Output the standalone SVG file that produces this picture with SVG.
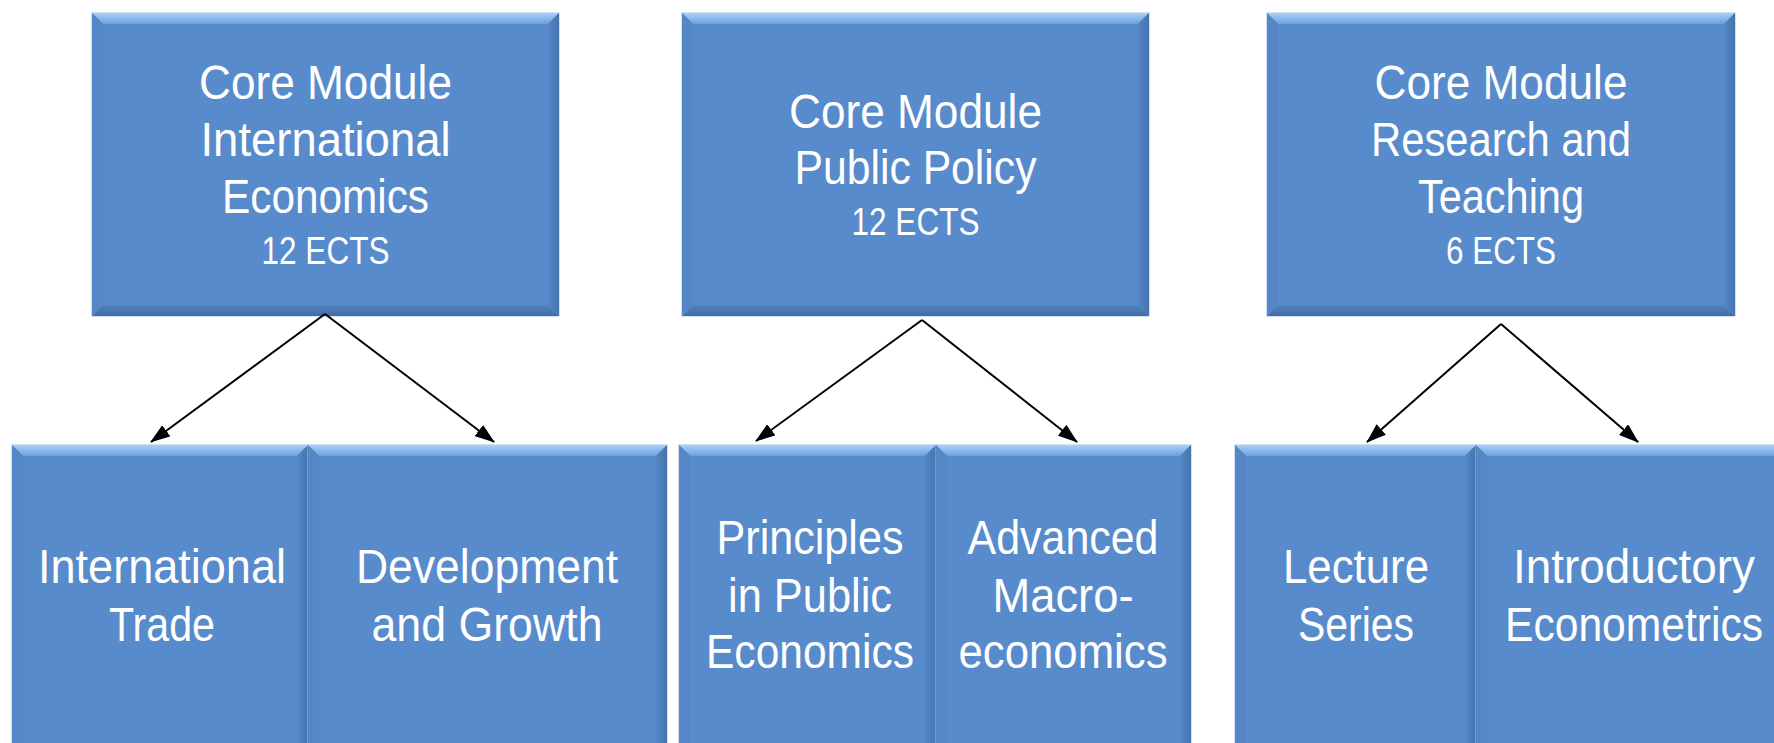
<svg xmlns="http://www.w3.org/2000/svg" width="1774" height="743" viewBox="0 0 1774 743">
<style>
  .face{fill:#588BCB;stroke:#A3C0E4;stroke-width:1}
  .top{fill:url(#gTop)}
  .bot{fill:url(#gBot)}
  .lft{fill:#5587C7}
  .rgt{fill:url(#gRgt)}
  .t{font-family:"Liberation Sans",Arial,sans-serif;font-size:48px;fill:#FFFFFF;text-anchor:middle}
  .s{font-family:"Liberation Sans",Arial,sans-serif;font-size:38px;fill:#FFFFFF;text-anchor:middle}
  .conn line{stroke:#000000;stroke-width:2;marker-end:url(#arr)}
</style>
<defs>
  <linearGradient id="gTop" x1="0" y1="0" x2="0" y2="1">
    <stop offset="0" stop-color="#A9D2F8"/>
    <stop offset="1" stop-color="#6E9FDC"/>
  </linearGradient>
  <linearGradient id="gBot" x1="0" y1="0" x2="0" y2="1">
    <stop offset="0" stop-color="#5182BE"/>
    <stop offset="1" stop-color="#416EA5"/>
  </linearGradient>
  <linearGradient id="gRgt" x1="0" y1="0" x2="1" y2="0">
    <stop offset="0" stop-color="#5586C6"/>
    <stop offset="1" stop-color="#4674AE"/>
  </linearGradient>
  <marker id="arr" markerUnits="userSpaceOnUse" markerWidth="20" markerHeight="14" viewBox="0 0 20 14" refX="19" refY="7" orient="auto">
    <path d="M0,0 L20,7 L0,14 z" fill="#000000"/>
  </marker>
</defs>
<rect width="1774" height="743" fill="#FFFFFF"/>

<g id="core-intl">
  <rect class="face" x="92" y="13" width="467" height="303"/>
  <polygon class="top" points="92,13 559,13 548,24 103,24"/>
  <polygon class="bot" points="92,316 559,316 548,305 103,305"/>
  <polygon class="lft" points="92,13 103,24 103,305 92,316"/>
  <polygon class="rgt" points="559,13 548,24 548,305 559,316"/>
  <text class="t" x="325.5" y="99" textLength="253" lengthAdjust="spacingAndGlyphs">Core Module</text>
  <text class="t" x="325.5" y="156" textLength="250" lengthAdjust="spacingAndGlyphs">International</text>
  <text class="t" x="325.5" y="213" textLength="207" lengthAdjust="spacingAndGlyphs">Economics</text>
  <text class="s" x="325.5" y="264" textLength="128" lengthAdjust="spacingAndGlyphs">12 ECTS</text>
</g>

<g id="core-policy">
  <rect class="face" x="682" y="13" width="467" height="303"/>
  <polygon class="top" points="682,13 1149,13 1138,24 693,24"/>
  <polygon class="bot" points="682,316 1149,316 1138,305 693,305"/>
  <polygon class="lft" points="682,13 693,24 693,305 682,316"/>
  <polygon class="rgt" points="1149,13 1138,24 1138,305 1149,316"/>
  <text class="t" x="915.5" y="128" textLength="253" lengthAdjust="spacingAndGlyphs">Core Module</text>
  <text class="t" x="915.5" y="184" textLength="242" lengthAdjust="spacingAndGlyphs">Public Policy</text>
  <text class="s" x="915.5" y="235" textLength="128" lengthAdjust="spacingAndGlyphs">12 ECTS</text>
</g>

<g id="core-research">
  <rect class="face" x="1267" y="13" width="468" height="303"/>
  <polygon class="top" points="1267,13 1735,13 1724,24 1278,24"/>
  <polygon class="bot" points="1267,316 1735,316 1724,305 1278,305"/>
  <polygon class="lft" points="1267,13 1278,24 1278,305 1267,316"/>
  <polygon class="rgt" points="1735,13 1724,24 1724,305 1735,316"/>
  <text class="t" x="1501" y="99" textLength="253" lengthAdjust="spacingAndGlyphs">Core Module</text>
  <text class="t" x="1501" y="156" textLength="260" lengthAdjust="spacingAndGlyphs">Research and</text>
  <text class="t" x="1501" y="213" textLength="166" lengthAdjust="spacingAndGlyphs">Teaching</text>
  <text class="s" x="1501" y="264" textLength="110" lengthAdjust="spacingAndGlyphs">6 ECTS</text>
</g>

<g id="intl-trade">
  <rect class="face" x="12" y="445" width="296" height="320"/>
  <polygon class="top" points="12,445 308,445 297,456 23,456"/>
  <polygon class="lft" points="12,445 23,456 23,765 12,765"/>
  <polygon class="rgt" points="308,445 297,456 297,765 308,765"/>
  <text class="t" x="162" y="583" textLength="248" lengthAdjust="spacingAndGlyphs">International</text>
  <text class="t" x="162" y="641" textLength="106" lengthAdjust="spacingAndGlyphs">Trade</text>
</g>

<g id="dev-growth">
  <rect class="face" x="308" y="445" width="359" height="320"/>
  <polygon class="top" points="308,445 667,445 656,456 319,456"/>
  <polygon class="lft" points="308,445 319,456 319,765 308,765"/>
  <polygon class="rgt" points="667,445 656,456 656,765 667,765"/>
  <text class="t" x="487" y="583" textLength="262" lengthAdjust="spacingAndGlyphs">Development</text>
  <text class="t" x="487" y="641" textLength="231" lengthAdjust="spacingAndGlyphs">and Growth</text>
</g>

<g id="principles">
  <rect class="face" x="679" y="445" width="257" height="320"/>
  <polygon class="top" points="679,445 936,445 925,456 690,456"/>
  <polygon class="lft" points="679,445 690,456 690,765 679,765"/>
  <polygon class="rgt" points="936,445 925,456 925,765 936,765"/>
  <text class="t" x="810" y="554" textLength="187" lengthAdjust="spacingAndGlyphs">Principles</text>
  <text class="t" x="810" y="612" textLength="164" lengthAdjust="spacingAndGlyphs">in Public</text>
  <text class="t" x="810" y="668" textLength="208" lengthAdjust="spacingAndGlyphs">Economics</text>
</g>

<g id="macro">
  <rect class="face" x="936" y="445" width="255" height="320"/>
  <polygon class="top" points="936,445 1191,445 1180,456 947,456"/>
  <polygon class="lft" points="936,445 947,456 947,765 936,765"/>
  <polygon class="rgt" points="1191,445 1180,456 1180,765 1191,765"/>
  <text class="t" x="1063" y="554" textLength="191" lengthAdjust="spacingAndGlyphs">Advanced</text>
  <text class="t" x="1063" y="612" textLength="141" lengthAdjust="spacingAndGlyphs">Macro-</text>
  <text class="t" x="1063" y="668" textLength="209" lengthAdjust="spacingAndGlyphs">economics</text>
</g>

<g id="lecture">
  <rect class="face" x="1235" y="445" width="241" height="320"/>
  <polygon class="top" points="1235,445 1476,445 1465,456 1246,456"/>
  <polygon class="lft" points="1235,445 1246,456 1246,765 1235,765"/>
  <polygon class="rgt" points="1476,445 1465,456 1465,765 1476,765"/>
  <text class="t" x="1356" y="583" textLength="146" lengthAdjust="spacingAndGlyphs">Lecture</text>
  <text class="t" x="1356" y="641" textLength="116" lengthAdjust="spacingAndGlyphs">Series</text>
</g>

<g id="econometrics">
  <rect class="face" x="1476" y="445" width="320" height="320"/>
  <polygon class="top" points="1476,445 1796,445 1785,456 1487,456"/>
  <polygon class="lft" points="1476,445 1487,456 1487,765 1476,765"/>
  <text class="t" x="1634" y="583" textLength="242" lengthAdjust="spacingAndGlyphs">Introductory</text>
  <text class="t" x="1634" y="641" textLength="258" lengthAdjust="spacingAndGlyphs">Econometrics</text>
</g>

<g id="connectors" class="conn">
  <line x1="325" y1="314" x2="151" y2="442"/>
  <line x1="325" y1="314" x2="494" y2="442"/>
  <line x1="922" y1="320" x2="756" y2="441"/>
  <line x1="922" y1="320" x2="1077" y2="442"/>
  <line x1="1501" y1="324" x2="1367" y2="442"/>
  <line x1="1501" y1="324" x2="1638" y2="442"/>
</g>
</svg>
